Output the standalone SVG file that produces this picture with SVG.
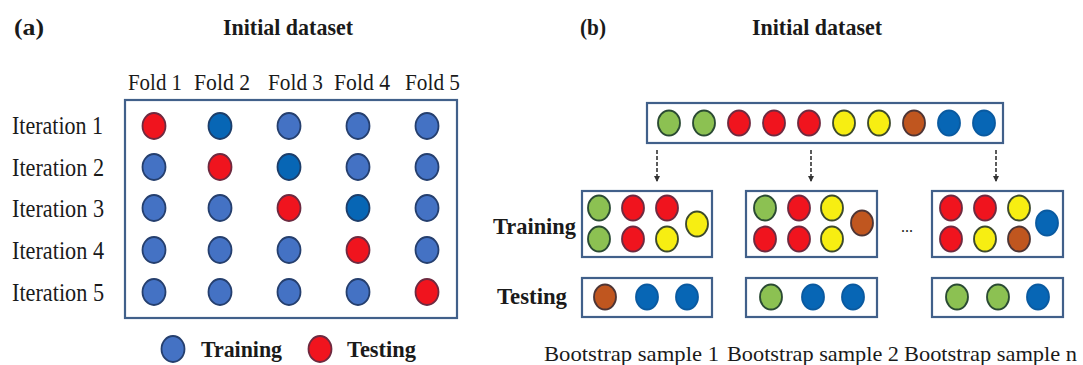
<svg xmlns="http://www.w3.org/2000/svg" width="1083" height="365" viewBox="0 0 1083 365">
<style>
.t{font-family:"Liberation Serif","Times New Roman",serif;fill:#1a1a1a}
.b{font-weight:bold}
.box{fill:#fff;stroke:#41608a;stroke-width:2.2}
.e{stroke-width:1.8}
.bl{fill:#4472c4;stroke:#253f6e}
.db{fill:#0766b5;stroke:#1d3e6a}
.rd{fill:#f0141e;stroke:#6e2a40}
.gr{fill:#8cc152;stroke:#2a4a33}
.yl{fill:#f7ee12;stroke:#3d4a2c}
.br{fill:#c0561f;stroke:#4e3535}
.bb{fill:#0766b5;stroke:#0a5aa0}
.arr{stroke:#333;stroke-width:1.6;stroke-dasharray:4 2;fill:none}
</style>
<defs>
<marker id="ah" markerWidth="6" markerHeight="6" refX="5" refY="3" orient="auto" markerUnits="userSpaceOnUse">
<path d="M0,0 L6,3 L0,6 z" fill="#333"/>
</marker>
<ellipse id="c" cx="0" cy="0" rx="11.5" ry="13"/>
<ellipse id="s" cx="0" cy="0" rx="11" ry="12.5"/>
</defs>

<!-- Panel (a) -->
<g id="panel-a-titles">
<text class="t b" x="14" y="35" font-size="23" textLength="30" lengthAdjust="spacingAndGlyphs">(a)</text>
<text class="t b" x="223" y="35" font-size="23" textLength="130" lengthAdjust="spacingAndGlyphs">Initial dataset</text>
</g>
<g id="fold-labels" class="t" font-size="24">
<text x="128" y="90" textLength="54" lengthAdjust="spacingAndGlyphs">Fold 1</text>
<text x="194" y="90" textLength="56" lengthAdjust="spacingAndGlyphs">Fold 2</text>
<text x="268" y="90" textLength="55" lengthAdjust="spacingAndGlyphs">Fold 3</text>
<text x="334" y="90" textLength="56" lengthAdjust="spacingAndGlyphs">Fold 4</text>
<text x="405" y="90" textLength="55" lengthAdjust="spacingAndGlyphs">Fold 5</text>
</g>
<g id="iteration-labels" class="t" font-size="25">
<text x="12" y="134" textLength="91" lengthAdjust="spacingAndGlyphs">Iteration 1</text>
<text x="12" y="176" textLength="92" lengthAdjust="spacingAndGlyphs">Iteration 2</text>
<text x="12" y="217" textLength="92" lengthAdjust="spacingAndGlyphs">Iteration 3</text>
<text x="12" y="259" textLength="92" lengthAdjust="spacingAndGlyphs">Iteration 4</text>
<text x="12" y="301" textLength="92" lengthAdjust="spacingAndGlyphs">Iteration 5</text>
</g>
<g id="kfold-grid">
<rect class="box" x="125" y="100" width="332" height="218"/>
<g transform="translate(0,126)">
<use href="#c" class="e rd" x="154"/><use href="#c" class="e db" x="220"/><use href="#c" class="e bl" x="289"/><use href="#c" class="e bl" x="358"/><use href="#c" class="e bl" x="427"/>
</g>
<g transform="translate(0,167)">
<use href="#c" class="e bl" x="154"/><use href="#c" class="e rd" x="220"/><use href="#c" class="e db" x="289"/><use href="#c" class="e bl" x="358"/><use href="#c" class="e bl" x="427"/>
</g>
<g transform="translate(0,208)">
<use href="#c" class="e bl" x="154"/><use href="#c" class="e bl" x="220"/><use href="#c" class="e rd" x="289"/><use href="#c" class="e db" x="358"/><use href="#c" class="e bl" x="427"/>
</g>
<g transform="translate(0,250)">
<use href="#c" class="e bl" x="154"/><use href="#c" class="e bl" x="220"/><use href="#c" class="e bl" x="289"/><use href="#c" class="e rd" x="358"/><use href="#c" class="e bl" x="427"/>
</g>
<g transform="translate(0,292)">
<use href="#c" class="e bl" x="154"/><use href="#c" class="e bl" x="220"/><use href="#c" class="e bl" x="289"/><use href="#c" class="e bl" x="358"/><use href="#c" class="e rd" x="427"/>
</g>
</g>
<g id="legend">
<use href="#c" class="e bl" x="173" y="349"/>
<text class="t b" x="201" y="357" font-size="24" textLength="81" lengthAdjust="spacingAndGlyphs">Training</text>
<use href="#c" class="e rd" x="320" y="349"/>
<text class="t b" x="347" y="357" font-size="24" textLength="69" lengthAdjust="spacingAndGlyphs">Testing</text>
</g>

<!-- Panel (b) -->
<g id="panel-b-titles">
<text class="t b" x="580" y="35" font-size="23" textLength="26" lengthAdjust="spacingAndGlyphs">(b)</text>
<text class="t b" x="752" y="35" font-size="23" textLength="130" lengthAdjust="spacingAndGlyphs">Initial dataset</text>
</g>
<g id="initial-dataset">
<rect class="box" x="647" y="103" width="356" height="40"/>
<g transform="translate(0,123)">
<use href="#s" class="e gr" x="669"/><use href="#s" class="e gr" x="704"/><use href="#s" class="e rd" x="739"/><use href="#s" class="e rd" x="774"/><use href="#s" class="e rd" x="809"/><use href="#s" class="e yl" x="844"/><use href="#s" class="e yl" x="879"/><use href="#s" class="e br" x="914"/><use href="#s" class="e bb" x="949"/><use href="#s" class="e bb" x="984"/>
</g>
</g>
<g id="connectors">
<line class="arr" x1="657" y1="150" x2="657" y2="181" marker-end="url(#ah)"/>
<line class="arr" x1="811" y1="150" x2="811" y2="181" marker-end="url(#ah)"/>
<line class="arr" x1="996" y1="150" x2="996" y2="181" marker-end="url(#ah)"/>
</g>
<g id="row-labels">
<text class="t b" x="493" y="234" font-size="24" textLength="83" lengthAdjust="spacingAndGlyphs">Training</text>
<text class="t b" x="497" y="304" font-size="24" textLength="70" lengthAdjust="spacingAndGlyphs">Testing</text>
</g>
<g id="sample1-train">
<rect class="box" x="582" y="191" width="130" height="66"/>
<use href="#s" class="e gr" x="599" y="208"/><use href="#s" class="e rd" x="633" y="208"/><use href="#s" class="e rd" x="667" y="208"/>
<use href="#s" class="e gr" x="599" y="239"/><use href="#s" class="e rd" x="633" y="239"/><use href="#s" class="e yl" x="667" y="239"/>
<use href="#s" class="e yl" x="697" y="224"/>
</g>
<g id="sample2-train">
<rect class="box" x="746" y="191" width="131" height="66"/>
<use href="#s" class="e gr" x="765" y="208"/><use href="#s" class="e rd" x="799" y="208"/><use href="#s" class="e yl" x="832" y="208"/>
<use href="#s" class="e rd" x="765" y="239"/><use href="#s" class="e rd" x="799" y="239"/><use href="#s" class="e yl" x="832" y="239"/>
<use href="#s" class="e br" x="862" y="223"/>
</g>
<g id="ellipsis">
<text class="t" x="907" y="232" font-size="16" text-anchor="middle" fill="#444">...</text>
</g>
<g id="samplen-train">
<rect class="box" x="932" y="191" width="131" height="66"/>
<use href="#s" class="e rd" x="951" y="208"/><use href="#s" class="e rd" x="985" y="208"/><use href="#s" class="e yl" x="1019" y="208"/>
<use href="#s" class="e rd" x="951" y="239"/><use href="#s" class="e yl" x="985" y="239"/><use href="#s" class="e br" x="1019" y="239"/>
<use href="#s" class="e bb" x="1047" y="223"/>
</g>
<g id="sample1-test">
<rect class="box" x="582" y="278" width="130" height="39"/>
<use href="#s" class="e br" x="605" y="297"/><use href="#s" class="e bb" x="647" y="297"/><use href="#s" class="e bb" x="687" y="297"/>
</g>
<g id="sample2-test">
<rect class="box" x="746" y="278" width="131" height="39"/>
<use href="#s" class="e gr" x="771" y="297"/><use href="#s" class="e bb" x="813" y="297"/><use href="#s" class="e bb" x="853" y="297"/>
</g>
<g id="samplen-test">
<rect class="box" x="932" y="278" width="131" height="39"/>
<use href="#s" class="e gr" x="957" y="297"/><use href="#s" class="e gr" x="998" y="297"/><use href="#s" class="e bb" x="1038" y="297"/>
</g>
<g id="sample-labels" class="t" font-size="22">
<text x="544" y="361" textLength="175" lengthAdjust="spacingAndGlyphs">Bootstrap sample 1</text>
<text x="727" y="361" textLength="172" lengthAdjust="spacingAndGlyphs">Bootstrap sample 2</text>
<text x="904" y="361" textLength="173" lengthAdjust="spacingAndGlyphs">Bootstrap sample n</text>
</g>
</svg>
